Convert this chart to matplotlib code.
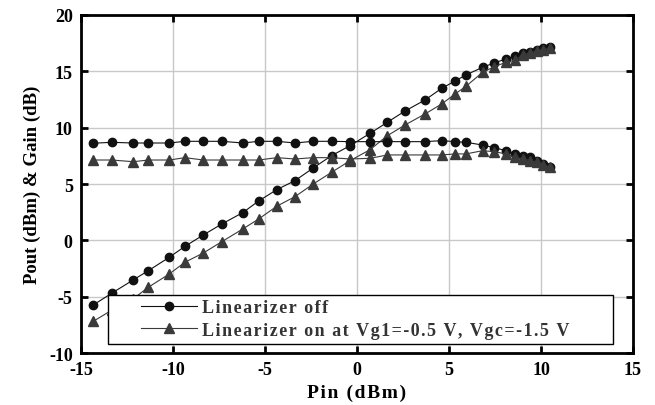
import matplotlib
matplotlib.use("Agg")
import matplotlib.pyplot as plt
from matplotlib.patches import Rectangle

# Pin (dBm) sweep points
pin = [-14.33, -13.33, -12.16, -11.34, -10.2, -9.35, -8.35, -7.35, -6.21, -5.34,
       -4.36, -3.37, -2.38, -1.38, -0.38, 0.71, 1.65, 2.61, 3.70, 4.60,
       5.33, 5.92, 6.83, 7.45, 8.10, 8.59, 9.04, 9.40, 9.77, 10.13, 10.49]

# Linearizer off
pout_off = [-5.73, -4.69, -3.51, -2.69, -1.50, -0.53, 0.48, 1.45, 2.46, 3.50,
            4.50, 5.30, 6.42, 7.52, 8.40, 9.50, 10.48, 11.48, 12.46, 13.49,
            14.14, 14.68, 15.36, 15.74, 16.10, 16.33, 16.60, 16.74, 16.89, 17.05, 17.19]
gain_off = [8.62, 8.70, 8.64, 8.64, 8.64, 8.79, 8.79, 8.79, 8.64, 8.79,
            8.79, 8.64, 8.79, 8.79, 8.76, 8.76, 8.76, 8.76, 8.76, 8.85,
            8.76, 8.70, 8.46, 8.23, 7.96, 7.67, 7.52, 7.37, 7.07, 6.78, 6.49]

# Linearizer on (Vg1=-0.5 V, Vgc=-1.5 V)
pout_on = [-7.18, -6.20, -5.18, -4.16, -2.98, -1.94, -1.12, -0.12, 1.01, 1.90,
           3.03, 3.88, 5.00, 6.04, 7.07, 8.05, 9.29, 10.24, 11.22, 12.10,
           12.99, 13.67, 14.92, 15.41, 15.80, 16.00, 16.48, 16.63, 16.78, 16.92, 17.04]
gain_on = [7.13, 7.13, 6.98, 7.13, 7.13, 7.34, 7.13, 7.13, 7.13, 7.13,
           7.34, 7.22, 7.34, 7.34, 7.22, 7.28, 7.58, 7.58, 7.58, 7.58,
           7.67, 7.67, 7.96, 7.87, 7.67, 7.37, 7.22, 7.07, 6.93, 6.72, 6.49]

xticks = [-15, -10, -5, 0, 5, 10, 15]
yticks = [-10, -5, 0, 5, 10, 15, 20]


def spaced(s):
    # wide letter spacing like the original
    return "\u200a".join(s)


plt.rcParams["font.family"] = ["Liberation Serif", "DejaVu Serif"]
plt.rcParams["font.weight"] = "bold"
plt.rcParams["axes.unicode_minus"] = False

fig = plt.figure(figsize=(6.55, 4.06), dpi=100)
ax = fig.add_axes([0.1237, 0.128, 0.8427, 0.8326])

off_kw = dict(color="#111111", marker="o", markersize=6, linewidth=0.8)
on_kw = dict(color="#3a3a3a", marker="^", markersize=7, linewidth=0.8)

ax.plot(pin, pout_off, label=spaced("Linearizer off"), **off_kw)
ax.plot(pin, pout_on, label=spaced("Linearizer on at Vg1=-0.5 V, Vgc=-1.5 V"), **on_kw)
ax.plot(pin, gain_off, **off_kw)
ax.plot(pin, gain_on, **on_kw)

ax.set_xlim(-15, 15)
ax.set_ylim(-10, 20)
ax.set_xticks(xticks)
ax.set_yticks(yticks)
ax.grid(color="#c8c8c8", linewidth=1.0)
ax.set_axisbelow(True)
for s in ax.spines.values():
    s.set_linewidth(2)
ax.tick_params(direction="in", top=True, right=True, width=2, length=5,
               labelsize=13, pad=6)

ax.set_xlabel(spaced("Pin (dBm)"), fontsize=14, fontweight="bold", labelpad=4)
ax.set_ylabel("Pout (dBm) & Gain (dB)", fontsize=13.5, fontweight="bold", labelpad=6)

# legend box drawn separately so the handles sit indented like the original
box = Rectangle((0.0489, 0.0275), 0.9149, 0.1429, transform=ax.transAxes,
                facecolor="white", edgecolor="black", linewidth=1.0, zorder=4.5)
ax.add_patch(box)
leg = ax.legend(loc="center left", bbox_to_anchor=(0.108, 0.1005),
                fontsize=13, frameon=False, handlelength=3.1, handletextpad=0.28,
                borderpad=0, labelspacing=0.3, borderaxespad=0)
for t in leg.get_texts():
    t.set_color("#333333")

fig.savefig("out.png", dpi=100, facecolor="white")
